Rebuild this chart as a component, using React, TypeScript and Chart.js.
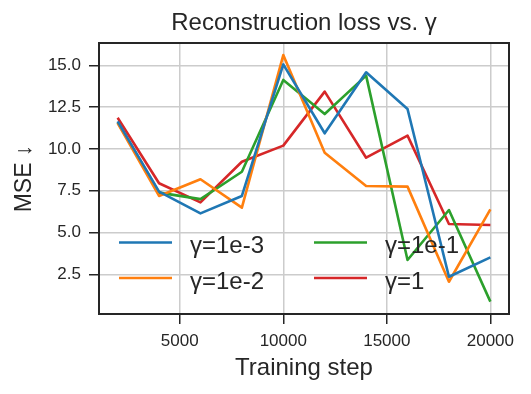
import React, { useEffect, useRef } from "react";
import { Chart, registerables } from "chart.js";

Chart.register(...registerables);

const steps = [2000, 4000, 6000, 8000, 10000, 12000, 14000, 16000, 18000, 20000];
const seriesLabels = ["γ=1e-3", "γ=1e-2", "γ=1e-1", "γ=1"];
const gamma1e3 = [11.65, 7.45, 6.15, 7.19, 15.06, 10.94, 14.59, 12.39, 2.36, 3.52];
const gamma1e2 = [11.55, 7.19, 8.19, 6.49, 15.62, 9.78, 7.79, 7.75, 2.06, 6.39];
const gamma1e1 = [11.6, 7.39, 7.0, 8.64, 14.13, 12.09, 14.39, 3.36, 6.35, 0.87];
const gamma1 = [11.87, 7.95, 6.81, 9.24, 10.2, 13.43, 9.48, 10.8, 5.51, 5.45];
const seriesColors = ["#1f77b4", "#ff7f0e", "#2ca02c", "#d62728"];
const xTickValues = [5000, 10000, 15000, 20000];
const yTickValues = [2.5, 5.0, 7.5, 10.0, 12.5, 15.0];

const titleText = "Reconstruction loss vs. γ";
const xTitle = "Training step";
const yTitle = "MSE ↓";

const FONT = "'Liberation Sans', Arial, sans-serif";
const TEXT = "#262626";

const decorPlugin = {
  id: "decor",
  afterDatasetsDraw(chart: any) {
    const { ctx, chartArea } = chart;
    const { left, right, top, bottom } = chartArea;
    ctx.save();
    // frame
    ctx.strokeStyle = TEXT;
    ctx.lineWidth = 2;
    ctx.strokeRect(left, top, right - left, bottom - top);
    // title
    ctx.fillStyle = TEXT;
    ctx.font = `24px ${FONT}`;
    ctx.textAlign = "center";
    ctx.textBaseline = "alphabetic";
    const cx = (left + right) / 2;
    ctx.fillText(titleText, cx, 30);
    ctx.fillText(xTitle, cx, 375);
    ctx.save();
    ctx.font = `23px ${FONT}`;
    ctx.translate(31, (top + bottom) / 2);
    ctx.rotate(-Math.PI / 2);
    ctx.fillText(yTitle, 0, 0);
    ctx.restore();
    // legend (two columns, column-major)
    const colX = [119, 314];
    const rowY = [242.5, 278];
    const lineLen = 53;
    const textGap = 18;
    chart.data.datasets.forEach((ds: any, i: number) => {
      const col = Math.floor(i / 2);
      const row = i % 2;
      const x = colX[col];
      const y = rowY[row];
      ctx.strokeStyle = ds.borderColor;
      ctx.lineWidth = 2.6;
      ctx.lineCap = "butt";
      ctx.beginPath();
      ctx.moveTo(x, y);
      ctx.lineTo(x + lineLen, y);
      ctx.stroke();
      ctx.fillStyle = TEXT;
      ctx.textAlign = "left";
      ctx.textBaseline = "alphabetic";
      ctx.font = `24px ${FONT}`;
      ctx.fillText(ds.label, x + lineLen + textGap, y + 10.5);
    });
    ctx.restore();
  },
};

export default function App() {
  const ref = useRef<HTMLCanvasElement>(null);
  useEffect(() => {
    document.body.style.margin = "0";
    const values = [gamma1e3, gamma1e2, gamma1e1, gamma1];
    const chart = new Chart(ref.current as HTMLCanvasElement, {
      type: "line",
      data: {
        datasets: values.map((vals, i) => ({
          label: seriesLabels[i],
          data: steps.map((s, j) => ({ x: s, y: vals[j] })),
          borderColor: seriesColors[i],
          backgroundColor: seriesColors[i],
          borderWidth: 2.6,
          pointRadius: 0,
          tension: 0,
          borderJoinStyle: "round",
          fill: false,
        })),
      },
      options: {
        responsive: false,
        animation: false,
        layout: { padding: { top: 43, right: 22, left: 0, bottom: 0 } },
        plugins: {
          legend: { display: false },
          title: { display: false },
          tooltip: { enabled: false },
        },
        scales: {
          x: {
            type: "linear",
            min: 1100,
            max: 20900,
            afterFit: (s: any) => {
              s.height = 80;
            },
            afterBuildTicks: (s: any) => {
              s.ticks = xTickValues.map((v) => ({ value: v }));
            },
            border: { display: false },
            grid: {
              color: "#cccccc",
              lineWidth: 1.5,
              drawTicks: true,
              tickLength: 10,
              tickColor: TEXT,
              tickWidth: 1.5,
            },
            ticks: {
              color: TEXT,
              font: { family: FONT, size: 17 },
              padding: 7,
              maxRotation: 0,
              autoSkip: false,
              callback: (v: any) => String(v),
            },
          },
          y: {
            type: "linear",
            min: 0.13,
            max: 16.34,
            afterFit: (s: any) => {
              s.width = 99;
            },
            afterBuildTicks: (s: any) => {
              s.ticks = yTickValues.map((v) => ({ value: v }));
            },
            border: { display: false },
            grid: {
              color: "#cccccc",
              lineWidth: 1.5,
              drawTicks: true,
              tickLength: 10,
              tickColor: TEXT,
              tickWidth: 1.5,
            },
            ticks: {
              color: TEXT,
              font: { family: FONT, size: 17 },
              padding: 8,
              autoSkip: false,
              callback: (v: any) => Number(v).toFixed(1),
            },
          },
        },
      },
      plugins: [decorPlugin],
    });
    return () => chart.destroy();
  }, []);
  return (
    <div style={{ position: "fixed", left: 0, top: 0, width: 531, height: 394, background: "#ffffff" }}>
      <canvas ref={ref} width={531} height={394} />
    </div>
  );
}
